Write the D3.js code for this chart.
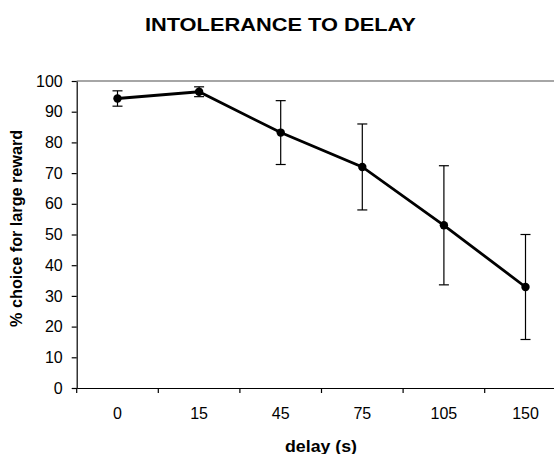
<!DOCTYPE html>
<html>
<head>
<meta charset="utf-8">
<script src="https://cdn.jsdelivr.net/npm/d3@7"></script>
<style>
  body { margin: 0; background: #fff; }
  svg { display: block; font-family: Arial, "Liberation Sans", sans-serif; }
</style>
</head>
<body>
<svg width="554" height="454"></svg>
<script>
// values
let delays = ["0", "15", "45", "75", "105", "150"];
let means  = [94.3, 96.5, 83.2, 72.0, 53.0, 32.9];
let errs   = [2.5, 1.6, 10.4, 14.0, 19.4, 17.1];
let yTicks = [0, 10, 20, 30, 40, 50, 60, 70, 80, 90, 100];

let svg = d3.select("svg");

// plot box runs past the right edge of the picture
let pLeft = 76.7, pRight = 566.3, pTop = 81, pBottom = 388;

let x = d3.scaleBand().domain(delays).range([pLeft, pRight]).padding(0);
let y = d3.scaleLinear().domain([0, 100]).range([pBottom, pTop]);

let pts = delays.map((d, i) => ({ d: d, m: means[i], e: errs[i] }));

// plot frame (top edge grey)
svg.append("line")
  .attr("x1", pLeft).attr("x2", pRight)
  .attr("y1", pTop).attr("y2", pTop)
  .attr("stroke", "#888").attr("stroke-width", 1.5);

// y axis
let yAxis = svg.append("g")
  .attr("transform", `translate(${pLeft},0)`)
  .call(d3.axisLeft(y).tickValues(yTicks).tickSize(5).tickPadding(9).tickSizeOuter(0));
yAxis.select(".domain").attr("stroke", "#000").attr("stroke-width", 1.2);
yAxis.selectAll(".tick line").attr("stroke", "#000").attr("stroke-width", 1.2);
yAxis.selectAll("text").attr("font-size", 16).attr("fill", "#000");

// x axis (labels centred in bands, ticks at band edges)
let xAxis = svg.append("g")
  .attr("transform", `translate(0,${pBottom})`)
  .call(d3.axisBottom(x).tickSize(0).tickPadding(20).tickSizeOuter(0));
xAxis.select(".domain").attr("stroke", "#000").attr("stroke-width", 1.2);
xAxis.selectAll("text").attr("font-size", 16).attr("fill", "#000");

let edges = delays.map(d => x(d)).concat([x(delays[delays.length - 1]) + x.bandwidth()]);
xAxis.selectAll("line.edge")
  .data(edges)
  .join("line")
  .attr("class", "edge")
  .attr("x1", d => d).attr("x2", d => d)
  .attr("y1", 0).attr("y2", 5)
  .attr("stroke", "#000").attr("stroke-width", 1.2);

// error bars
let cx = d => x(d.d) + x.bandwidth() / 2;
let eb = svg.append("g").attr("stroke", "#000").attr("stroke-width", 1.2);
eb.selectAll("line.v").data(pts).join("line").attr("class", "v")
  .attr("x1", cx).attr("x2", cx)
  .attr("y1", d => y(d.m + d.e)).attr("y2", d => y(d.m - d.e));
eb.selectAll("line.t").data(pts).join("line").attr("class", "t")
  .attr("x1", d => cx(d) - 5).attr("x2", d => cx(d) + 5)
  .attr("y1", d => y(d.m + d.e)).attr("y2", d => y(d.m + d.e));
eb.selectAll("line.b").data(pts).join("line").attr("class", "b")
  .attr("x1", d => cx(d) - 5).attr("x2", d => cx(d) + 5)
  .attr("y1", d => y(d.m - d.e)).attr("y2", d => y(d.m - d.e));

// line + markers
svg.append("path")
  .datum(pts)
  .attr("fill", "none")
  .attr("stroke", "#000")
  .attr("stroke-width", 2.8)
  .attr("d", d3.line().x(cx).y(d => y(d.m)));

svg.selectAll("circle.pt")
  .data(pts)
  .join("circle")
  .attr("class", "pt")
  .attr("cx", cx)
  .attr("cy", d => y(d.m))
  .attr("r", 4.2)
  .attr("fill", "#000");

// titles
svg.append("text")
  .attr("x", 280.4).attr("y", 30.5)
  .attr("text-anchor", "middle")
  .attr("font-size", 19).attr("font-weight", "bold")
  .attr("textLength", 271).attr("lengthAdjust", "spacingAndGlyphs")
  .text("INTOLERANCE TO DELAY");

svg.append("text")
  .attr("x", 321).attr("y", 451.5)
  .attr("text-anchor", "middle")
  .attr("font-size", 16.3).attr("font-weight", "bold")
  .attr("textLength", 72).attr("lengthAdjust", "spacingAndGlyphs")
  .text("delay (s)");

svg.append("text")
  .attr("transform", "translate(21.5,228.4) rotate(-90)")
  .attr("text-anchor", "middle")
  .attr("font-size", 16).attr("font-weight", "bold")
  .attr("textLength", 197).attr("lengthAdjust", "spacingAndGlyphs")
  .text("% choice for large reward");
</script>
</body>
</html>
